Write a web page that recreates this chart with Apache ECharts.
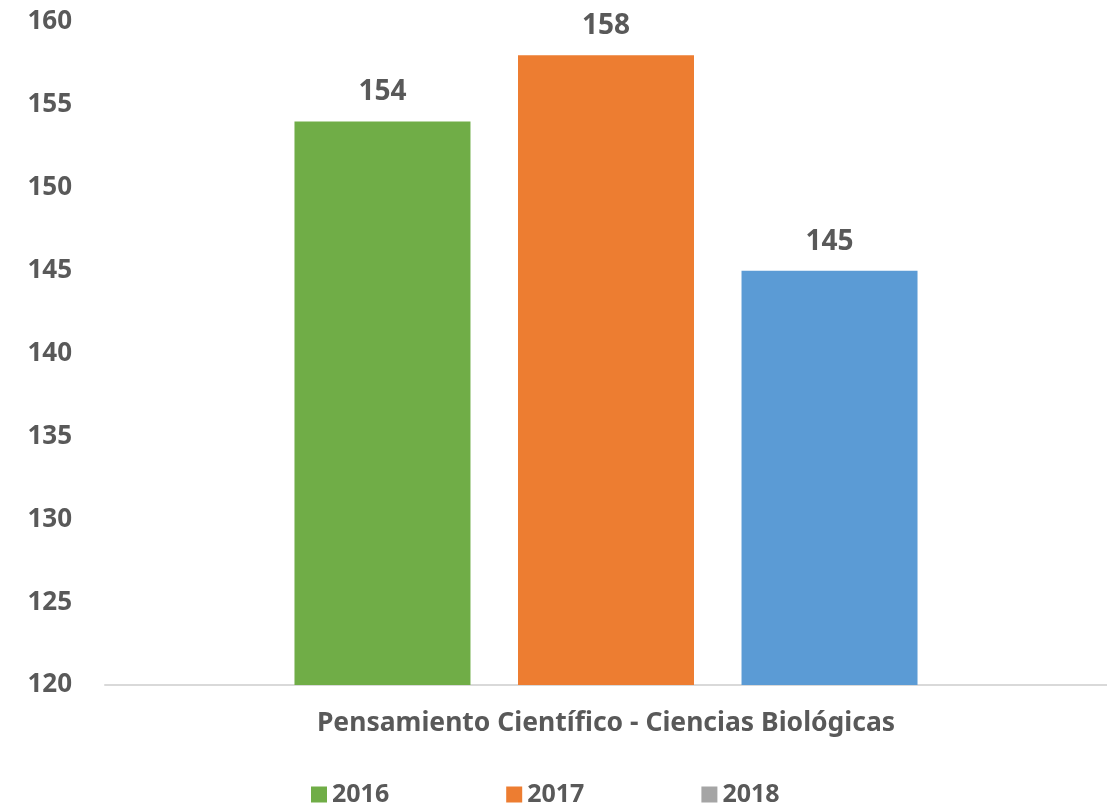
<!DOCTYPE html>
<html>
<head>
<meta charset="utf-8">
<script src="https://cdn.jsdelivr.net/npm/echarts@6/dist/echarts.min.js"></script>
<style>
  html, body { margin: 0; padding: 0; background: #fff; }
  #main { width: 1107px; height: 806px; }
</style>
</head>
<body>
<div id="main"></div>
<script>
// datos del gráfico
var categories = ['Pensamiento Científico - Ciencias Biológicas'];
var years = ['2016', '2017', '2018'];
var values2016 = [154];
var values2017 = [158];
var values2018 = [145];
var barColors = ['#70ad47', '#ed7d31', '#5b9bd5'];
var legendColors = ['#70ad47', '#ed7d31', '#a5a5a5'];

var font = '"Noto Sans", "Open Sans", sans-serif';
var textColor = '#595959';

var chart = echarts.init(document.getElementById('main'));

function makeSeries(name, data, color) {
    return {
        name: name,
        type: 'bar',
        data: data,
        barWidth: 176,
        barGap: '27%',
        itemStyle: { color: color },
        label: {
            show: true,
            position: 'top',
            distance: 15,
            color: textColor,
            fontFamily: font,
            fontWeight: 700,
            fontSize: 28
        }
    };
}

var option = {
    animation: false,
    grid: { left: 105, right: 0, top: 22, bottom: 121, containLabel: false },
    legend: {
        top: 777,
        left: 306,
        itemWidth: 16,
        itemHeight: 16,
        itemGap: 117,
        icon: 'rect',
        textStyle: { color: textColor, fontFamily: font, fontWeight: 700, fontSize: 25 },
        data: years.map(function (y, i) {
            return { name: y, itemStyle: { color: legendColors[i] } };
        })
    },
    xAxis: {
        type: 'category',
        data: categories,
        axisLine: { lineStyle: { color: '#d9d9d9', width: 2 } },
        axisTick: { show: false },
        axisLabel: {
            color: textColor, fontFamily: font, fontWeight: 700, fontSize: 26.5, margin: 25
        }
    },
    yAxis: {
        type: 'value',
        min: 120,
        max: 160,
        interval: 5,
        splitLine: { show: false },
        axisLine: { show: false },
        axisTick: { show: false },
        axisLabel: {
            color: textColor, fontFamily: font, fontWeight: 700, fontSize: 26, margin: 33
        }
    },
    series: [
        makeSeries(years[0], values2016, barColors[0]),
        makeSeries(years[1], values2017, barColors[1]),
        makeSeries(years[2], values2018, barColors[2])
    ]
};

chart.setOption(option);
</script>
</body>
</html>
